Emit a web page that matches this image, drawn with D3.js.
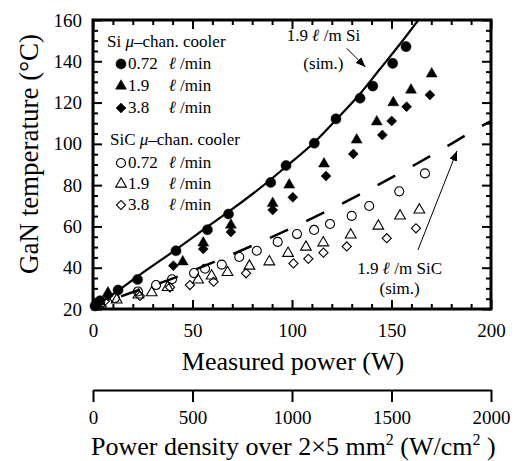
<!DOCTYPE html>
<meta charset="utf-8">
<script src="https://d3js.org/d3.v7.min.js"></script>
<style>
  body { margin: 0; background: #fff; }
  svg { font-family: "Liberation Serif", "Times New Roman", serif; }
  .axis path { display: none; }
  .axis line { stroke: #000; stroke-width: 2px; }
  .axis text { font-size: 19px; fill: #000; font-family: "Liberation Serif", "Times New Roman", serif; }
  .density path { display: inline; stroke: #000; stroke-width: 2px; }
  .leg { font-size: 17px; }
</style>
<body></body>
<script>

// measured power (W) and GaN temperature (C), Si cooler
var siP072 = [1, 3.5, 12.6, 22.4, 41.7, 57.5, 68.1, 89.3, 97.0, 111.2, 122.1, 134.2, 140.6, 150.6, 157.3];
var siT072 = [21.5, 24, 29.2, 34.3, 48.2, 58.4, 66.0, 81.3, 89.5, 100.3, 112.1, 122.1, 128.0, 139.0, 147.1];
var siP19 = [2, 7.5, 45.1, 55.4, 69.3, 90.3, 98.6, 116.1, 132.5, 142.6, 150.9, 159.8, 170.2];
var siT19 = [22.5, 27.8, 42.9, 52, 60.7, 71.2, 80.1, 90.3, 101.9, 110.7, 120.0, 126.1, 133.9];
var siP38 = [2, 7.5, 40.4, 55.4, 69.3, 90.3, 100.4, 117.1, 130.8, 145.4, 150.1, 157.6, 169.3];
var siT38 = [22, 26.3, 41.0, 49.1, 57.3, 68.0, 74.1, 84.4, 95.1, 104.3, 111.1, 118.0, 123.7];

// SiC cooler
var sicP072 = [3.5, 11, 22.6, 31.7, 39.7, 50.8, 56.3, 64.7, 73.5, 82.3, 92.8, 102.5, 111.1, 119.1, 130.0, 138.8, 153.9, 166.8];
var sicT072 = [22.4, 25.3, 28.5, 31.6, 34.4, 37.4, 39.5, 41.5, 45.2, 48.2, 52.5, 56.3, 58.3, 61.2, 65.1, 69.9, 77.0, 85.7];
var sicP19 = [4, 11.9, 22.8, 29.5, 37.5, 52.8, 59.6, 67.6, 78.6, 88.6, 98.0, 107.0, 115.7, 129.5, 143.4, 154.3, 164.0];
var sicT19 = [22.5, 24.4, 26.8, 27.9, 30.5, 34.1, 36.0, 37.7, 40.8, 42.9, 47.0, 50.0, 52.1, 55.9, 60.2, 65.1, 68.0];
var sicP38 = [6, 23.6, 38.7, 48.7, 60.6, 76.9, 100.7, 108.2, 115.8, 127.5, 147.6, 162.3];
var sicT38 = [23.9, 26.3, 30.5, 31.6, 33.2, 37.3, 42.1, 44.3, 47.3, 50.3, 54.3, 59.1];

// simulated curves, 1.9 l/min
var simSiP = [0, 12, 22, 42, 57, 68, 89, 97, 111, 122, 134, 144, 154, 163.5];
var simSiT = [20.5, 28.5, 35.5, 49, 59.5, 67, 82.5, 89, 100.5, 111.5, 124, 136, 148, 160];
var simSicP = [0, 18, 35, 52, 70, 89, 107, 125, 143, 162, 180, 196, 200];
var simSicT = [21, 27.5, 33, 39.3, 46.5, 54.5, 62.5, 71, 80, 90, 100, 109, 111];

var xTicks = [0, 50, 100, 150, 200];
var yTicks = [20, 40, 60, 80, 100, 120, 140, 160];
var densityTicks = [0, 500, 1000, 1500, 2000];
var flowLabels = ["0.72", "1.9", "3.8"];

var margin = {top: 20, left: 93};
var width = 398, height = 289;

var svg = d3.select("body").append("svg")
    .attr("width", 520)
    .attr("height", 461);

var x = d3.scaleLinear().domain([0, 200]).range([margin.left, margin.left + width]);
var y = d3.scaleLinear().domain([20, 160]).range([margin.top + height, margin.top]);
var x2 = d3.scaleLinear().domain([0, 2000]).range([margin.left, margin.left + width]);

var xMinor = d3.range(0, 201, 10).filter(function(d) { return d % 50 != 0; });
var yMinor = d3.range(20, 161, 5).filter(function(d) { return d % 20 != 0; });

// axes (ticks point inwards)
svg.append("g").attr("class", "axis")
  .attr("transform", "translate(0," + y(20) + ")")
  .call(d3.axisBottom(x).tickValues(xTicks).tickSize(-9).tickPadding(15));
svg.append("g").attr("class", "axis")
  .attr("transform", "translate(0," + y(20) + ")")
  .call(d3.axisBottom(x).tickValues(xMinor).tickSize(-5).tickFormat(""));
svg.append("g").attr("class", "axis")
  .attr("transform", "translate(0," + y(160) + ")")
  .call(d3.axisTop(x).tickValues(xTicks).tickSize(-9).tickFormat(""));
svg.append("g").attr("class", "axis")
  .attr("transform", "translate(0," + y(160) + ")")
  .call(d3.axisTop(x).tickValues(xMinor).tickSize(-5).tickFormat(""));

svg.append("g").attr("class", "axis")
  .attr("transform", "translate(" + x(0) + ",0)")
  .call(d3.axisLeft(y).tickValues(yTicks).tickSize(-9).tickPadding(11));
svg.append("g").attr("class", "axis")
  .attr("transform", "translate(" + x(0) + ",0)")
  .call(d3.axisLeft(y).tickValues(yMinor).tickSize(-5).tickFormat(""));
svg.append("g").attr("class", "axis")
  .attr("transform", "translate(" + x(200) + ",0)")
  .call(d3.axisRight(y).tickValues(yTicks).tickSize(-9).tickFormat(""));
svg.append("g").attr("class", "axis")
  .attr("transform", "translate(" + x(200) + ",0)")
  .call(d3.axisRight(y).tickValues(yMinor).tickSize(-5).tickFormat(""));

svg.append("rect")
  .attr("x", x(0)).attr("y", y(160))
  .attr("width", width).attr("height", height)
  .style("fill", "none").style("stroke", "#000").style("stroke-width", 3);

// power density axis
svg.append("g").attr("class", "axis density")
  .attr("transform", "translate(0,390)")
  .call(d3.axisBottom(x2).tickValues(densityTicks).tickFormat(d3.format("d"))
    .tickSize(12).tickSizeOuter(0).tickPadding(9));

// clip
svg.append("clipPath").attr("id", "plotClip")
  .append("rect").attr("x", x(0)).attr("y", y(160)).attr("width", width).attr("height", height);

var line = d3.line()
  .x(function(d) { return x(d[0]); })
  .y(function(d) { return y(d[1]); })
  .curve(d3.curveMonotoneX);

svg.append("path")
  .datum(d3.zip(simSiP, simSiT))
  .attr("d", line)
  .attr("clip-path", "url(#plotClip)")
  .style("fill", "none").style("stroke", "#000").style("stroke-width", 2.2);

svg.append("path")
  .datum(d3.zip(simSicP, simSicT))
  .attr("d", line)
  .style("fill", "none").style("stroke", "#000").style("stroke-width", 2.5)
  .style("stroke-dasharray", "20,20").style("stroke-dashoffset", 10);

// markers
var circleSym = d3.symbol().type(d3.symbolCircle);
var triSym = d3.symbol().type(d3.symbolTriangle);
var sqSym = d3.symbol().type(d3.symbolSquare);

var series = [
  {p: siP072, t: siT072, sym: circleSym.size(80)(), rot: 0, fill: "#000"},
  {p: siP19, t: siT19, sym: triSym.size(52)(), rot: 0, fill: "#000"},
  {p: siP38, t: siT38, sym: sqSym.size(50)(), rot: 45, fill: "#000"},
  {p: sicP072, t: sicT072, sym: circleSym.size(64)(), rot: 0, fill: "none"},
  {p: sicP19, t: sicT19, sym: triSym.size(50)(), rot: 0, fill: "none"},
  {p: sicP38, t: sicT38, sym: sqSym.size(42)(), rot: 45, fill: "none"}
];

series.forEach(function(s) {
  svg.append("g").selectAll("path")
    .data(d3.zip(s.p, s.t)).enter().append("path")
    .attr("d", s.sym)
    .attr("transform", function(d) { return "translate(" + x(d[0]) + "," + y(d[1]) + ") rotate(" + s.rot + ")"; })
    .style("fill", s.fill == "none" ? "#fff" : "#000")
    .style("fill-opacity", s.fill == "none" ? 0 : 1)
    .style("stroke", "#000")
    .style("stroke-width", s.fill == "none" ? 1.1 : 0.5);
});

// legend
function header(yb, name) {
  var t = svg.append("text").attr("class", "leg").attr("x", name == "Si" ? 107 : 110).attr("y", yb);
  t.append("tspan").text(name + " ");
  t.append("tspan").style("font-style", "italic").text("\u03bc");
  t.append("tspan").text("\u2013chan. cooler");
}
function row(yb, s, label) {
  svg.append("path")
    .attr("d", s.sym)
    .attr("transform", "translate(121," + (yb - 5) + ") rotate(" + s.rot + ")")
    .style("fill", s.fill == "none" ? "#fff" : "#000")
    .style("stroke", "#000")
    .style("stroke-width", s.fill == "none" ? 1.1 : 0.5);
  svg.append("text").attr("class", "leg").attr("x", 128).attr("y", yb).text(label);
  svg.append("text").attr("class", "leg").attr("x", 169).attr("y", yb)
    .style("font-style", "italic").style("font-weight", "bold").text("\u2113");
  svg.append("text").attr("class", "leg").attr("x", 180).attr("y", yb).text("/min");
}
header(47, "Si");
row(69, series[0], flowLabels[0]);
row(91, series[1], flowLabels[1]);
row(113, series[2], flowLabels[2]);
header(145, "SiC");
row(168, series[3], flowLabels[0]);
row(189, series[4], flowLabels[1]);
row(210, series[5], flowLabels[2]);

// annotations
svg.append("defs").append("marker")
  .attr("id", "arrow").attr("viewBox", "0 0 10 8")
  .attr("refX", 10).attr("refY", 4)
  .attr("markerWidth", 10).attr("markerHeight", 8)
  .attr("markerUnits", "userSpaceOnUse")
  .attr("orient", "auto")
  .append("path").attr("d", "M0,0L10,4L0,8Z").style("fill", "#000");

function note(cx, y1, y2, label, ax1, ay1, ax2, ay2) {
  var t = svg.append("text").attr("class", "leg").attr("text-anchor", "middle")
    .attr("x", x(cx)).attr("y", y(y1));
  t.append("tspan").text("1.9 ");
  t.append("tspan").style("font-style", "italic").style("font-weight", "bold").text("\u2113");
  t.append("tspan").text(" /m " + label);
  svg.append("text").attr("class", "leg").attr("text-anchor", "middle")
    .attr("x", x(cx)).attr("y", y(y2)).text("(sim.)");
  svg.append("line")
    .attr("x1", x(ax1)).attr("y1", y(ay1)).attr("x2", x(ax2)).attr("y2", y(ay2))
    .style("stroke", "#000").style("stroke-width", 1)
    .attr("marker-end", "url(#arrow)");
}
note(115.8, 149.7, 136.5, "Si", 127.5, 146.3, 136.9, 137.2);
note(154.1, 37, 27.3, "SiC", 163.3, 48.6, 182.9, 96.6);

// axis titles
svg.append("text")
  .attr("x", 293).attr("y", 370)
  .attr("text-anchor", "middle")
  .style("font-size", "26px")
  .text("Measured power (W)");

svg.append("text")
  .attr("transform", "translate(38," + 154 + ") rotate(-90)")
  .attr("text-anchor", "middle")
  .style("font-size", "27px")
  .text("GaN temperature (\u00b0C)");

var t2 = svg.append("text")
  .attr("x", 91).attr("y", 455)
  .style("font-size", "26px");
t2.append("tspan").text("Power density over 2\u00d75 mm");
t2.append("tspan").attr("dy", -10).style("font-size", "16px").text("2");
t2.append("tspan").attr("dy", 10).text(" (W/cm");
t2.append("tspan").attr("dy", -10).style("font-size", "16px").text("2");
t2.append("tspan").attr("dy", 10).text(" )");
</script>
